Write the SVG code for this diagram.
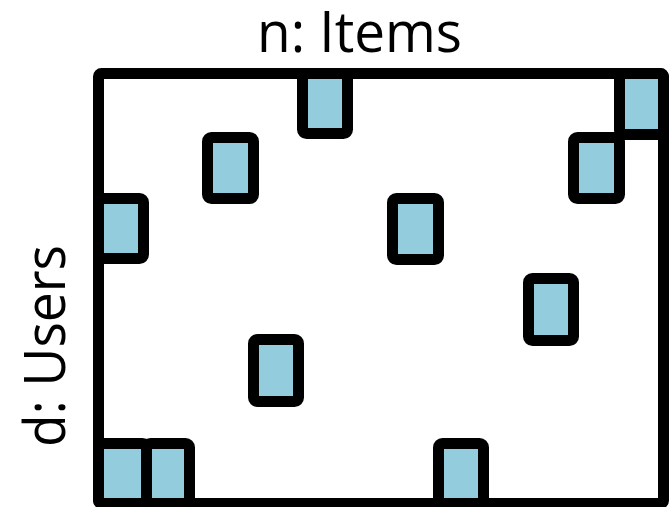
<svg xmlns="http://www.w3.org/2000/svg" width="669" height="507" viewBox="0 0 669 507">
<style>
.lbl{font-family:"Open Sans","Liberation Sans",sans-serif;font-size:56px;fill:#000}
.cell{fill:#93CDDD;stroke:#000;stroke-width:11;stroke-linejoin:round}
.frame{fill:#fff;stroke:#000;stroke-width:11;stroke-linejoin:round}
</style>
<rect width="669" height="507" fill="#fff"/>
<g id="matrix">
<rect class="frame" x="98.5" y="73.5" width="565" height="430" rx="3"/>
</g>
<g id="cells">
<rect id="c1" class="cell" x="302.5" y="73.5" width="45" height="60" rx="4"/>
<rect id="c2" class="cell" x="619.5" y="73.5" width="44" height="61" rx="4"/>
<rect id="c3" class="cell" x="207.5" y="137.5" width="46" height="61" rx="4"/>
<rect id="c4" class="cell" x="573.5" y="137.5" width="46" height="61" rx="4"/>
<rect id="c5" class="cell" x="98.5" y="198.5" width="45" height="60" rx="4"/>
<rect id="c6" class="cell" x="392.5" y="198.5" width="46" height="61" rx="4"/>
<rect id="c7" class="cell" x="528.5" y="278.5" width="45" height="62" rx="4"/>
<rect id="c8" class="cell" x="253.5" y="339.5" width="45" height="62" rx="4"/>
<rect id="c9" class="cell" x="98.5" y="443.5" width="48" height="60" rx="4"/>
<rect id="c10" class="cell" x="146.5" y="443.5" width="43" height="60" rx="4"/>
<rect id="c11" class="cell" x="438.5" y="443.5" width="45" height="60" rx="4"/>
</g>
<g id="labels">
<text class="lbl" x="359.5" y="52" text-anchor="middle" textLength="205" lengthAdjust="spacingAndGlyphs">n: Items</text>
<text class="lbl" transform="translate(65,346) rotate(-90)" x="0" y="0" text-anchor="middle" textLength="202" lengthAdjust="spacingAndGlyphs">d: Users</text>
</g>
</svg>
